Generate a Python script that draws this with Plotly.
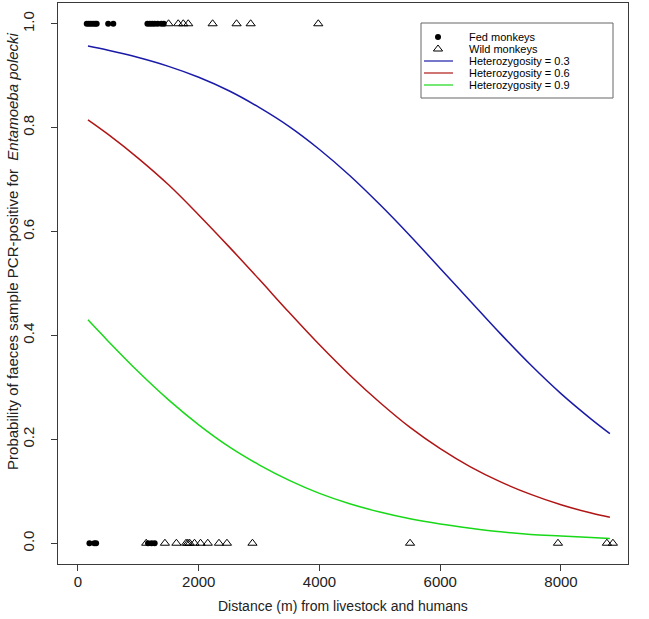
import plotly.graph_objects as go

# ---- data ----
fed_pos_x = [145, 180, 215, 250, 285, 310, 500, 585, 1150, 1190, 1230, 1270, 1320, 1380, 1420]
wild_pos_x = [1500, 1660, 1744, 1826, 2230, 2627, 2860, 3980]
fed_neg_x = [190, 270, 300, 1160, 1220, 1270]
wild_neg_x = [1130, 1440, 1630, 1790, 1820, 1850, 1930, 2030, 2150, 2335, 2467, 2890, 5500, 7950, 8760, 8860]

curve_x = [165, 500, 1000, 1500, 2000, 2500, 3000, 3500, 4000, 4500, 5000, 5500,
           6000, 6500, 7000, 7500, 8000, 8500, 8810]
het_03 = [0.957, 0.949, 0.935, 0.918, 0.897, 0.871, 0.839, 0.802, 0.758, 0.708, 0.652,
          0.592, 0.529, 0.466, 0.403, 0.343, 0.288, 0.239, 0.211]
het_06 = [0.815, 0.787, 0.741, 0.690, 0.632, 0.571, 0.508, 0.444, 0.382, 0.324, 0.271,
          0.223, 0.182, 0.147, 0.118, 0.094, 0.074, 0.058, 0.050]
het_09 = [0.430, 0.389, 0.330, 0.276, 0.228, 0.186, 0.151, 0.121, 0.096, 0.076, 0.060,
          0.047, 0.037, 0.029, 0.022, 0.017, 0.014, 0.011, 0.009]

x_ticks = [0, 2000, 4000, 6000, 8000]
y_ticks = [0.0, 0.2, 0.4, 0.6, 0.8, 1.0]
legend_labels = ["Fed monkeys", "Wild monkeys", "Heterozygosity = 0.3",
                 "Heterozygosity = 0.6", "Heterozygosity = 0.9"]
curve_colors = ["#1a1aa8", "#b01515", "#18d818"]

# ---- layout geometry (pixels) ----
W, H = 649, 619
L, R, T, B = 58, 21, 3, 55
FONT = "Liberation Sans, Arial, sans-serif"
AX = "#3a3a3a"
TXT = "#222222"

fig = go.Figure()

for ys, col in zip([het_03, het_06, het_09], curve_colors):
    fig.add_trace(go.Scatter(x=curve_x, y=ys, mode="lines", line=dict(color=col, width=1.5, shape="spline"),
                             showlegend=False, hoverinfo="skip"))

fig.add_trace(go.Scatter(x=fed_pos_x + fed_neg_x, y=[1] * len(fed_pos_x) + [0] * len(fed_neg_x),
                         mode="markers", marker=dict(symbol="circle", size=6, color="black"),
                         showlegend=False))
fig.add_trace(go.Scatter(x=wild_pos_x + wild_neg_x, y=[1] * len(wild_pos_x) + [0] * len(wild_neg_x),
                         mode="markers",
                         marker=dict(symbol="triangle-up-open", size=8, color="black", line=dict(width=1)),
                         showlegend=False))

# ---- manual legend on a pixel overlay axis ----
lx_sym, lx_l0, lx_l1, lx_text = 438, 424, 453, 467
rows = [37, 49, 61, 73, 85]
fig.add_trace(go.Scatter(x=[lx_sym], y=[rows[0]], mode="markers", xaxis="x2", yaxis="y2",
                         marker=dict(symbol="circle", size=6, color="black"), showlegend=False))
fig.add_trace(go.Scatter(x=[lx_sym], y=[rows[1]], mode="markers", xaxis="x2", yaxis="y2",
                         marker=dict(symbol="triangle-up-open", size=8, color="black", line=dict(width=1)),
                         showlegend=False))
for r, col in zip(rows[2:], curve_colors):
    fig.add_trace(go.Scatter(x=[lx_l0, lx_l1], y=[r, r], mode="lines", xaxis="x2", yaxis="y2",
                             line=dict(color=col, width=1.2), showlegend=False))
for r, lab in zip(rows, legend_labels):
    fig.add_annotation(x=lx_text, y=r, xref="x2", yref="y2", text=lab, showarrow=False,
                       xanchor="left", yanchor="middle", font=dict(family=FONT, size=11, color="black"))
fig.add_shape(type="rect", xref="x2", yref="y2", x0=421, x1=613, y0=23, y1=98,
              line=dict(color="#666666", width=1))

fig.update_layout(
    width=W, height=H, margin=dict(l=L, r=R, t=T, b=B, autoexpand=False),
    paper_bgcolor="white", plot_bgcolor="white",
    font=dict(family=FONT, size=15, color=TXT),
    xaxis=dict(range=[-331, 9110], tickvals=x_ticks, ticktext=[str(v) for v in x_ticks],
               showgrid=False, zeroline=False, showline=True, mirror=True, linecolor=AX, linewidth=1,
               ticks="outside", ticklen=6, tickcolor=AX, tickfont=dict(size=15), automargin=False,
               ticklabelstandoff=-2),
    yaxis=dict(range=[-0.04, 1.04], tickvals=y_ticks, ticktext=["%.1f" % v for v in y_ticks],
               tickangle=-90, showgrid=False, zeroline=False, showline=True, mirror=True,
               linecolor=AX, linewidth=1, ticks="outside", ticklen=6, tickcolor=AX, tickfont=dict(size=15),
               automargin=False, ticklabelstandoff=11),
    xaxis2=dict(overlaying="x", range=[L, W - R], visible=False, fixedrange=True),
    yaxis2=dict(overlaying="y", range=[H - B, T], visible=False, fixedrange=True),
)

fig.add_annotation(x=0, y=0.558, xref="paper", yref="paper", xshift=-45,
                   text="Probability of faeces sample PCR-positive for  <i>Entamoeba polecki</i>",
                   textangle=-90, showarrow=False, xanchor="center", yanchor="middle",
                   font=dict(family=FONT, size=15, color=TXT))
fig.add_annotation(x=0.5, y=0, xref="paper", yref="paper", yshift=-42,
                   text="Distance (m) from livestock and humans",
                   showarrow=False, xanchor="center", yanchor="middle",
                   font=dict(family=FONT, size=14, color=TXT))

fig.write_html("out.html", config={"displayModeBar": False},
               post_script="document.body.style.margin='0';document.body.style.overflow='hidden';")
